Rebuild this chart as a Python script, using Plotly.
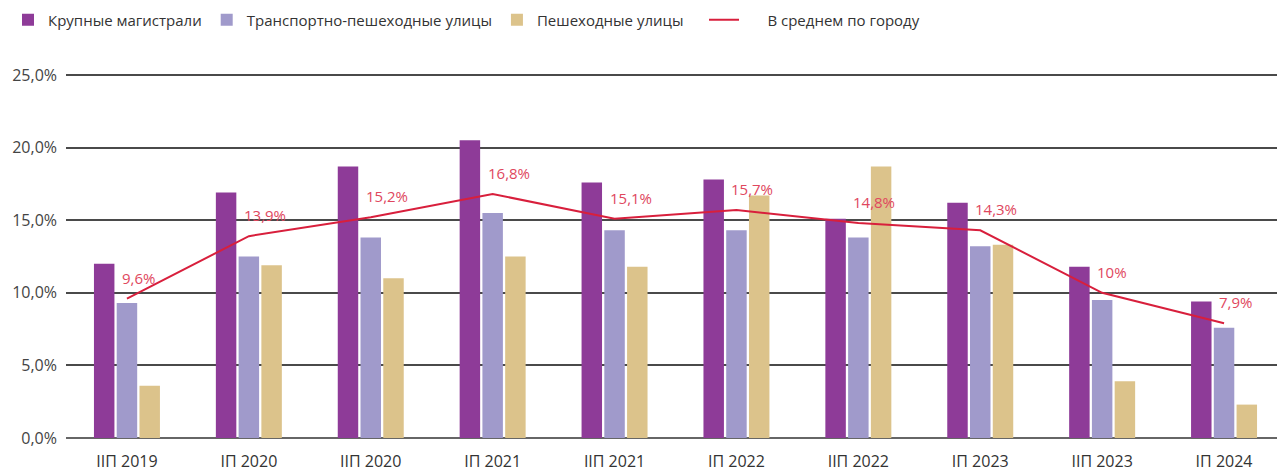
import plotly.graph_objects as go

categories = ["IIП 2019", "IП 2020", "IIП 2020", "IП 2021", "IIП 2021",
              "IП 2022", "IIП 2022", "IП 2023", "IIП 2023", "IП 2024"]
major_roads = [12.0, 16.9, 18.7, 20.5, 17.6, 17.8, 15.1, 16.2, 11.8, 9.4]
transport_ped = [9.3, 12.5, 13.8, 15.5, 14.3, 14.3, 13.8, 13.2, 9.5, 7.6]
pedestrian = [3.6, 11.9, 11.0, 12.5, 11.8, 16.7, 18.7, 13.3, 3.9, 2.3]
city_avg = [9.6, 13.9, 15.2, 16.8, 15.1, 15.7, 14.8, 14.3, 10.0, 7.9]
avg_labels = ["9,6%", "13,9%", "15,2%", "16,8%", "15,1%", "15,7%", "14,8%", "14,3%", "10%", "7,9%"]
tick_vals = [0, 5, 10, 15, 20, 25]
tick_text = ["0,0%", "5,0%", "10,0%", "15,0%", "20,0%", "25,0%"]

FONT = "Open Sans"
NB = "\u00a0"

fig = go.Figure()
fig.add_trace(go.Bar(name="Крупные магистрали", x=categories, y=major_roads,
                     marker=dict(color="#8e3b98", line=dict(width=0))))
fig.add_trace(go.Bar(name="Транспортно-пешеходные улицы", x=categories, y=transport_ped,
                     marker=dict(color="#a09acb", line=dict(width=0))))
fig.add_trace(go.Bar(name="Пешеходные улицы" + NB * 4, x=categories, y=pedestrian,
                     marker=dict(color="#dcc38b", line=dict(width=0))))
fig.add_trace(go.Scatter(name=NB * 6 + "В среднем по городу", x=categories, y=city_avg,
                         mode="lines", line=dict(color="#d81f3c", width=2)))

for c, v, t in zip(categories, city_avg, avg_labels):
    fig.add_annotation(x=c, y=v, text=t, showarrow=False, xanchor="left",
                       yanchor="bottom", xshift=-7, yshift=9,
                       font=dict(family=FONT, size=15, color="#e0475e"))

fig.update_layout(
    width=1277, height=463,
    margin=dict(l=58, r=0, t=62, b=33, autoexpand=False),
    paper_bgcolor="white", plot_bgcolor="white",
    barmode="group", bargap=0.44, bargroupgap=0.1,
    font=dict(family=FONT, size=15, color="#444"),
    legend=dict(orientation="h", xref="container", x=-0.002, xanchor="left",
                yref="container", y=0.974, yanchor="middle",
                font=dict(family=FONT, size=15, color="#333"),
                itemwidth=30, traceorder="normal"),
    xaxis=dict(showgrid=False, showline=False, ticks="", automargin=False,
               ticklabelstandoff=12,
               tickfont=dict(family=FONT, size=16, color="#333")),
    yaxis=dict(range=[0, 25.34], tickvals=tick_vals, ticktext=tick_text,
               showgrid=True, gridcolor="#4a4a4a", gridwidth=1.5,
               zeroline=True, zerolinecolor="#666", zerolinewidth=2,
               showline=False, ticks="", ticklabelstandoff=8, automargin=False,
               tickfont=dict(family=FONT, size=16, color="#444")),
    showlegend=True,
)

fig.write_html("out.html")
